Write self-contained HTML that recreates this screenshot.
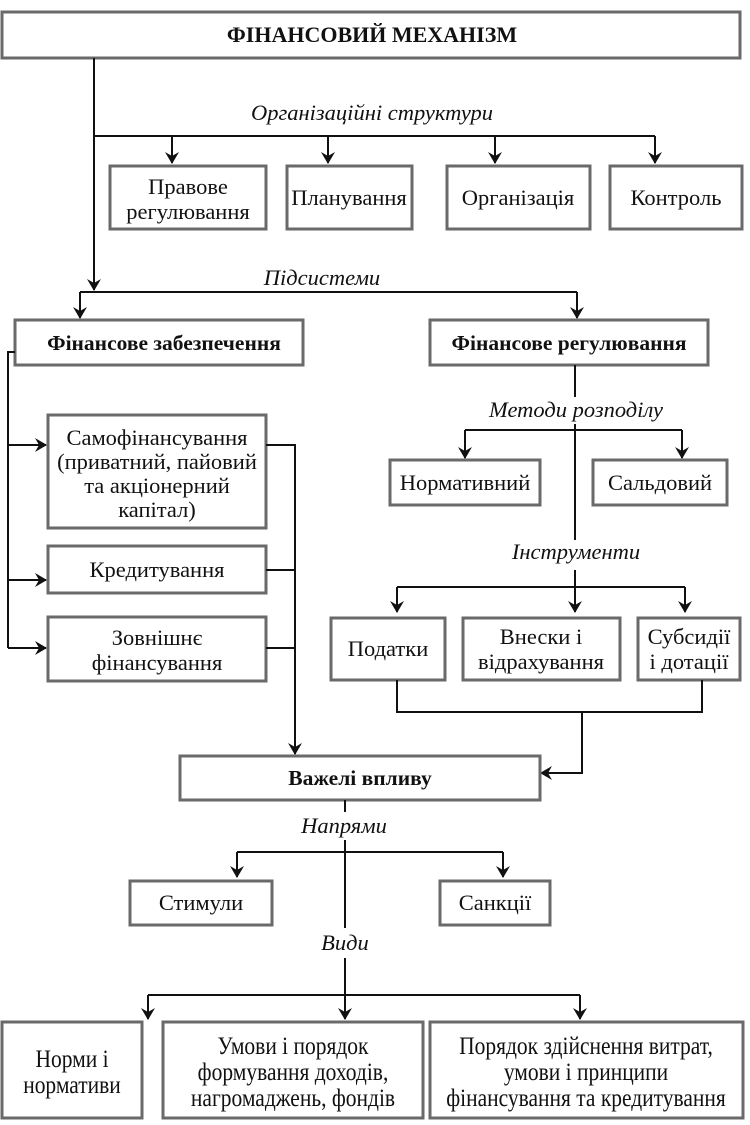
<!DOCTYPE html>
<html><head><meta charset="utf-8"><style>
html,body{margin:0;padding:0;background:#fff}
svg{display:block}
text{font-family:"Liberation Serif",serif;fill:#111;font-size:22.5px;text-anchor:middle}
.b{font-weight:bold;font-size:21.5px}
.i{font-style:italic}
rect{fill:#fff;stroke:#6a6a6a;stroke-width:3}
.l{stroke:#111;stroke-width:2;fill:none}
.n{font-size:25px}
</style></head><body>
<svg width="750" height="1125" viewBox="0 0 750 1125">
<defs><marker id="a" markerWidth="12" markerHeight="16" refX="11" refY="8" orient="auto" markerUnits="userSpaceOnUse"><path d="M0,1 L12,8 L0,15 L4,8 z" fill="#111"/></marker></defs>

<rect x="2" y="12" width="738" height="46"/>
<text x="372" y="42" class="b" style="font-size:22px">ФІНАНСОВИЙ МЕХАНІЗМ</text>

<path class="l" d="M94,58 V290"/>
<text x="372" y="120" class="i">Організаційні структури</text>
<path class="l" d="M94,136 H655"/>
<path class="l" d="M172,136 V163" marker-end="url(#a)"/>
<path class="l" d="M328,136 V163" marker-end="url(#a)"/>
<path class="l" d="M495,136 V163" marker-end="url(#a)"/>
<path class="l" d="M655,136 V163" marker-end="url(#a)"/>

<rect x="110" y="166" width="156" height="63"/>
<text x="188" y="194">Правове</text><text x="188" y="219">регулювання</text>
<rect x="287" y="166" width="125" height="63"/>
<text x="349" y="205">Планування</text>
<rect x="447" y="166" width="143" height="63"/>
<text x="518" y="205">Організація</text>
<rect x="610" y="166" width="132" height="63"/>
<text x="676" y="205">Контроль</text>

<path class="l" d="M94,270 V290" marker-end="url(#a)"/>
<text x="322" y="285" class="i">Підсистеми</text>
<path class="l" d="M80,292 H577"/>
<path class="l" d="M80,292 V318" marker-end="url(#a)"/>
<path class="l" d="M577,292 V318" marker-end="url(#a)"/>

<rect x="15" y="320" width="288" height="45"/>
<text x="164" y="350" class="b">Фінансове забезпечення</text>
<rect x="430" y="320" width="278" height="45"/>
<text x="569" y="350" class="b">Фінансове регулювання</text>

<path class="l" d="M15,352 H8 V648"/>
<path class="l" d="M8,445 H46" marker-end="url(#a)"/>
<path class="l" d="M8,580 H46" marker-end="url(#a)"/>
<path class="l" d="M8,648 H46" marker-end="url(#a)"/>

<rect x="48" y="415" width="218" height="113"/>
<text x="157" y="445">Самофінансування</text>
<text x="157" y="469">(приватний, пайовий</text>
<text x="157" y="493">та акціонерний</text>
<text x="157" y="517">капітал)</text>
<rect x="48" y="546" width="218" height="47"/>
<text x="157" y="577">Кредитування</text>
<rect x="48" y="617" width="218" height="64"/>
<text x="157" y="645">Зовнішнє</text><text x="157" y="670">фінансування</text>

<path class="l" d="M266,445 H295 V754" marker-end="url(#a)"/>
<path class="l" d="M266,570 H295"/>
<path class="l" d="M266,648 H295"/>

<path class="l" d="M575,365 V397"/>
<text x="576" y="417" class="i">Методи розподілу</text>
<path class="l" d="M575,424 V540"/>
<path class="l" d="M465,430 H682"/>
<path class="l" d="M465,430 V458" marker-end="url(#a)"/>
<path class="l" d="M682,430 V458" marker-end="url(#a)"/>
<rect x="390" y="460" width="150" height="45"/>
<text x="465" y="490">Нормативний</text>
<rect x="593" y="460" width="134" height="45"/>
<text x="660" y="490">Сальдовий</text>

<text x="576" y="559" class="i">Інструменти</text>
<path class="l" d="M575,570 V612" marker-end="url(#a)"/>
<path class="l" d="M397,587 H685"/>
<path class="l" d="M397,587 V612" marker-end="url(#a)"/>
<path class="l" d="M685,587 V612" marker-end="url(#a)"/>
<rect x="331" y="618" width="114" height="62"/>
<text x="388" y="656">Податки</text>
<rect x="463" y="618" width="157" height="62"/>
<text x="541" y="644">Внески і</text><text x="541" y="669">відрахування</text>
<rect x="638" y="618" width="102" height="62"/>
<text x="689" y="644">Субсидії</text><text x="689" y="669">і дотації</text>
<path class="l" d="M397,680 V712 H702 V680"/>
<path class="l" d="M582,712 V773 H541" marker-end="url(#a)"/>

<rect x="180" y="756" width="360" height="44"/>
<text x="360" y="785" class="b">Важелі впливу</text>

<path class="l" d="M345,800 V812"/>
<text x="344" y="833" class="i">Напрями</text>
<path class="l" d="M345,840 V928"/>
<path class="l" d="M237,852 H503"/>
<path class="l" d="M237,852 V877" marker-end="url(#a)"/>
<path class="l" d="M503,852 V877" marker-end="url(#a)"/>
<rect x="130" y="881" width="142" height="44"/>
<text x="201" y="910">Стимули</text>
<rect x="440" y="881" width="110" height="44"/>
<text x="495" y="910">Санкції</text>

<text x="345" y="950" class="i">Види</text>
<path class="l" d="M345,958 V1019" marker-end="url(#a)"/>
<path class="l" d="M148,995 H580"/>
<path class="l" d="M148,995 V1019" marker-end="url(#a)"/>
<path class="l" d="M580,995 V1019" marker-end="url(#a)"/>

<rect x="2" y="1022" width="140" height="96"/>
<g transform="translate(72,0) scale(0.86,1)">
<text x="0" y="1067" class="n">Норми і</text><text x="0" y="1093" class="n">нормативи</text></g>
<rect x="163" y="1022" width="260" height="96"/>
<g transform="translate(293,0) scale(0.86,1)">
<text x="0" y="1054" class="n">Умови і порядок</text>
<text x="0" y="1080" class="n">формування доходів,</text>
<text x="0" y="1106" class="n">нагромаджень, фондів</text></g>
<rect x="430" y="1022" width="313" height="96"/>
<g transform="translate(586,0) scale(0.86,1)">
<text x="0" y="1054" class="n">Порядок здійснення витрат,</text>
<text x="0" y="1080" class="n">умови і принципи</text>
<text x="0" y="1106" class="n">фінансування та кредитування</text></g>
</svg>
</body></html>
